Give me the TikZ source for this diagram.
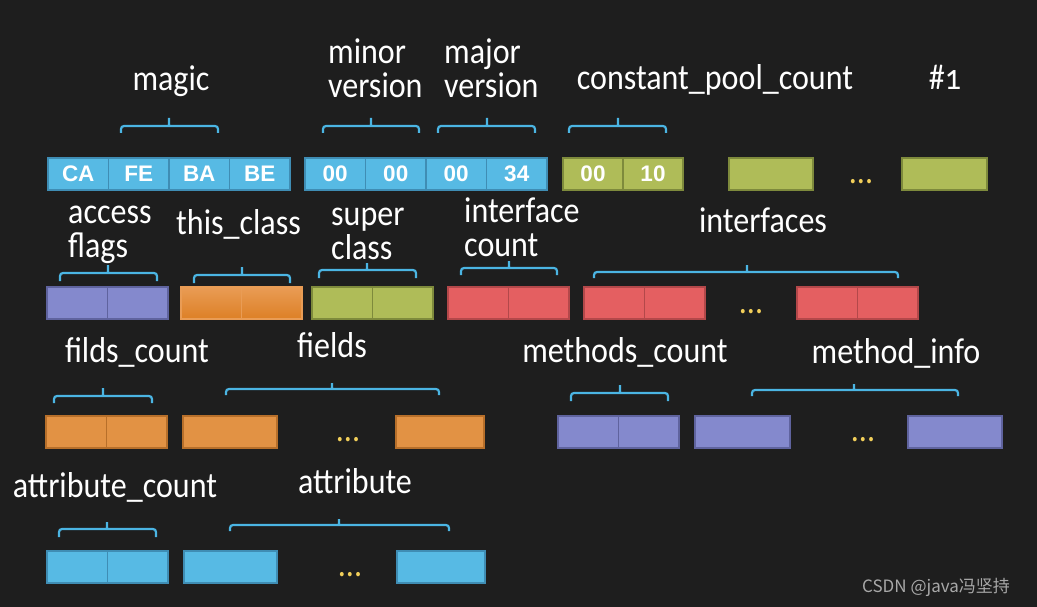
\documentclass[tikz,border=0pt]{standalone}
\usepackage{fontspec}
\setmainfont{Carlito}[FakeStretch=0.89]
\newfontfamily\cellfont{Liberation Sans}
\newfontfamily\markfont{Noto Sans CJK SC}
\usepackage{xcolor}
\usepackage{tikz}
\usetikzlibrary{positioning}

\definecolor{board}{HTML}{1E1E1E}
\definecolor{cblue}{HTML}{57BAE4}
\definecolor{cblueline}{HTML}{3F8DB4}
\definecolor{cgreen}{HTML}{AFBC58}
\definecolor{cgreenline}{HTML}{7E8A3C}
\definecolor{cpurple}{HTML}{8489CD}
\definecolor{cpurpleline}{HTML}{5F639E}
\definecolor{corange}{HTML}{E29244}
\definecolor{corangeline}{HTML}{B76F2A}
\definecolor{corangetop}{HTML}{E99C55}
\definecolor{corangebot}{HTML}{DD8026}
\definecolor{cred}{HTML}{E45F61}
\definecolor{credline}{HTML}{B3484A}
\definecolor{cdots}{HTML}{F2CF5A}
\definecolor{cbrace}{HTML}{4BB5E3}
\definecolor{markgray}{HTML}{A8A8A8}

\begin{document}
\begin{tikzpicture}[x=1pt, y=-1pt,
    cell/.style={rectangle, draw, minimum width=60.5pt, minimum height=32pt, inner sep=0pt, outer sep=0pt, line width=1.2pt},
    bluecell/.style={cell, fill=cblue, draw=cblueline, text=white, font=\cellfont\bfseries\fontsize{22.5}{22.5}\selectfont},
    greencell/.style={cell, fill=cgreen, draw=cgreenline, text=white, font=\cellfont\bfseries\fontsize{22.5}{22.5}\selectfont},
    purplecell/.style={cell, fill=cpurple, draw=cpurpleline},
    orangecell/.style={cell, fill=corange, draw=corangeline},
    shadecell/.style={cell, top color=corangetop, bottom color=corangebot, draw=corangetop},
    redcell/.style={cell, fill=cred, draw=credline},
    lbl/.style={text=white, inner sep=0pt, font=\fontsize{36}{34}\selectfont},
    ellip/.style={text=cdots, inner sep=0pt, font=\fontsize{36}{36}\selectfont},
    brace/.style={draw=cbrace, line width=2.2pt, rounded corners=3pt}]

    \fill[board] (0,0) rectangle (1037,607);
    \useasboundingbox (0,0) rectangle (1037,607);

    % row 1
    \node[bluecell, anchor=north west] (ca) at (48,158) {CA};
    \node[bluecell, right=0pt of ca] (fe) {FE};
    \node[bluecell, right=0pt of fe] (ba) {BA};
    \node[bluecell, right=0pt of ba] (be) {BE};
    \node[bluecell, anchor=north west] (minor1) at (305,158) {00};
    \node[bluecell, right=0pt of minor1] (minor2) {00};
    \node[bluecell, right=0pt of minor2] (major1) {00};
    \node[bluecell, right=0pt of major1] (major2) {34};
    \node[greencell, minimum width=60pt, anchor=north west] (pool1) at (563,158) {00};
    \node[greencell, minimum width=60pt, right=0pt of pool1] (pool2) {10};
    \node[greencell, minimum width=84pt, anchor=north west] (cpa) at (729,158) {};
    \node[ellip, anchor=base] (cpdots) at (861,184) {...};
    \node[greencell, minimum width=85pt, anchor=north west] (cpb) at (902,158) {};

    \node[lbl, anchor=base] (magic) at (171,91) {magic};
    \node[lbl, anchor=base west, align=left] (minor) at (328,98) {minor\\version};
    \node[lbl, anchor=base west, align=left] (major) at (444,98) {major\\version};
    \node[lbl, anchor=base] (poolcount) at (715,90) {constant\_pool\_count};
    \node[lbl, anchor=base] (first) at (945,90) {\#\addfontfeatures{Numbers=OldStyle}1};

    \draw[brace] (121,133) -- (121,126) -- (218,126) -- (218,133) (169,126) -- (169,118);
    \draw[brace] (323,133) -- (323,126) -- (419,126) -- (419,133) (371,126) -- (371,118);
    \draw[brace] (438,133) -- (438,126) -- (535,126) -- (535,133) (487,126) -- (487,118);
    \draw[brace] (569,133) -- (569,126) -- (666,126) -- (666,133) (618,126) -- (618,118);

    % row 2
    \node[purplecell, anchor=north west] (acc1) at (47,287) {};
    \node[purplecell, right=0pt of acc1] (acc2) {};
    \node[shadecell, anchor=north west] (this1) at (181,287) {};
    \node[shadecell, right=0pt of this1] (this2) {};
    \node[greencell, anchor=north west] (super1) at (312,287) {};
    \node[greencell, right=0pt of super1] (super2) {};
    \node[redcell, anchor=north west] (icount1) at (448,287) {};
    \node[redcell, right=0pt of icount1] (icount2) {};
    \node[redcell, anchor=north west] (iface1) at (584,287) {};
    \node[redcell, right=0pt of iface1] (iface2) {};
    \node[ellip, anchor=base] (ifdots) at (751,313) {...};
    \node[redcell, anchor=north west] (iface3) at (797,287) {};
    \node[redcell, right=0pt of iface3] (iface4) {};

    \node[lbl, anchor=base west, align=left] (access) at (68,257) {access\\flags};
    \node[lbl, anchor=base west] (thisclass) at (176,234) {this\_class};
    \node[lbl, anchor=base west, align=left] (superclass) at (331,259) {super\\class};
    \node[lbl, anchor=base west, align=left] (icount) at (464,256) {interface\\count};
    \node[lbl, anchor=base] (ifaces) at (763,233) {interfaces};

    \draw[brace] (60,281) -- (60,273) -- (157,273) -- (157,281) (108,273) -- (108,265);
    \draw[brace] (194,283) -- (194,275) -- (290,275) -- (290,283) (242,275) -- (242,267);
    \draw[brace] (319,278) -- (319,270) -- (416,270) -- (416,278) (367,270) -- (367,263);
    \draw[brace] (461,275) -- (461,268) -- (557,268) -- (557,275) (509,268) -- (509,261);
    \draw[brace] (594,278) -- (594,272) -- (898,272) -- (898,278) (747,272) -- (747,265);

    % row 3
    \node[orangecell, anchor=north west] (fcount1) at (46,416) {};
    \node[orangecell, right=0pt of fcount1] (fcount2) {};
    \node[orangecell, minimum width=94pt, anchor=north west] (field1) at (183,416) {};
    \node[ellip, anchor=base] (fdots) at (348,441) {...};
    \node[orangecell, minimum width=88pt, anchor=north west] (field2) at (396,416) {};
    \node[purplecell, anchor=north west] (mcount1) at (558,416) {};
    \node[purplecell, right=0pt of mcount1] (mcount2) {};
    \node[purplecell, minimum width=95pt, anchor=north west] (minfo1) at (695,416) {};
    \node[ellip, anchor=base] (mdots) at (863,441) {...};
    \node[purplecell, minimum width=94pt, anchor=north west] (minfo2) at (908,416) {};

    \node[lbl, anchor=base] (fildscount) at (137,362) {filds\_count};
    \node[lbl, anchor=base] (fields) at (332,357) {fields};
    \node[lbl, anchor=base] (methodscount) at (625,362) {methods\_count};
    \node[lbl, anchor=base] (methodinfo) at (896,363) {method\_info};

    \draw[brace] (54,403) -- (54,396) -- (152,396) -- (152,403) (103,396) -- (103,388);
    \draw[brace] (226,395) -- (226,389) -- (439,389) -- (439,395) (332,389) -- (332,383);
    \draw[brace] (571,401) -- (571,393) -- (668,393) -- (668,401) (620,393) -- (620,385);
    \draw[brace] (752,396) -- (752,390) -- (958,390) -- (958,396) (854,390) -- (854,384);

    % row 4
    \node[bluecell, anchor=north west] (acount1) at (47,551) {};
    \node[bluecell, right=0pt of acount1] (acount2) {};
    \node[bluecell, minimum width=93pt, anchor=north west] (attr1) at (184,551) {};
    \node[ellip, anchor=base] (adots) at (350,576) {...};
    \node[bluecell, minimum width=88pt, anchor=north west] (attr2) at (397,551) {};

    \node[lbl, anchor=base] (attrcount) at (115,497) {attribute\_count};
    \node[lbl, anchor=base] (attribute) at (355,493) {attribute};

    \draw[brace] (59,537) -- (59,529) -- (156,529) -- (156,537) (107,529) -- (107,522);
    \draw[brace] (230,531) -- (230,525) -- (449,525) -- (449,531) (339,525) -- (339,519);

    \node[anchor=base west, inner sep=0pt, text=markgray, font=\markfont\fontsize{17}{17}\selectfont] (mark) at (862,592) {CSDN @java冯坚持};
\end{tikzpicture}
\end{document}
